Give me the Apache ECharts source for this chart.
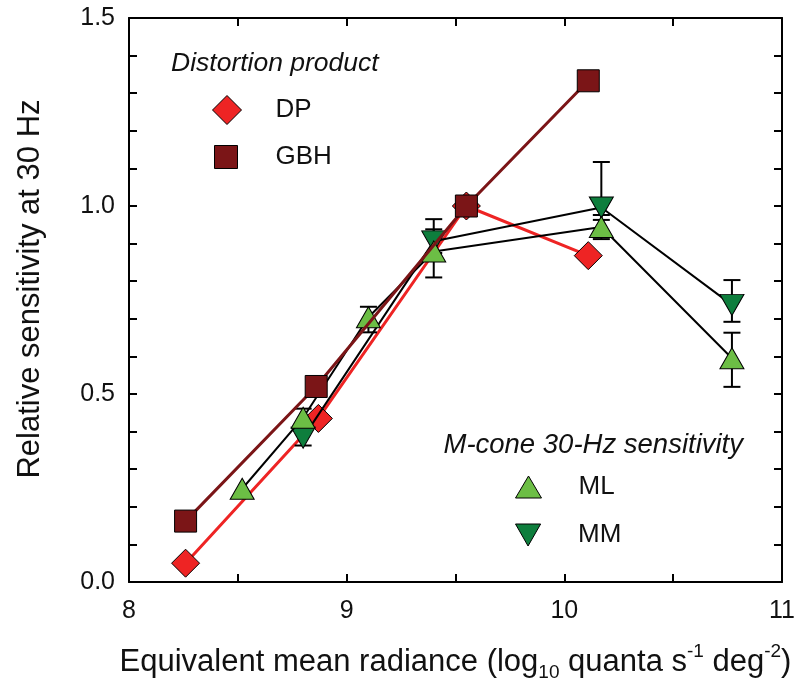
<!DOCTYPE html>
<html>
<head>
<meta charset="utf-8">
<script src="https://cdn.jsdelivr.net/npm/echarts@6/dist/echarts.min.js"></script>
<style>html,body{margin:0;padding:0;background:#fff}#c{width:798px;height:687px}</style>
</head>
<body>
<div id="c"></div>
<script>
// ---- data ----
const dpX = [8.26, 8.87, 9.55, 10.11];
const dpY = [0.05, 0.435, 1.0, 0.868];
const gbhX = [8.26, 8.86, 9.55, 10.11];
const gbhY = [0.162, 0.52, 1.0, 1.333];
const mlX = [8.52, 8.80, 9.10, 9.40, 10.17, 10.77];
const mlY = [0.248, 0.437, 0.704, 0.879, 0.944, 0.595];
const mlLow = [null, 0.413, 0.664, 0.810, 0.912, 0.519];
const mlHigh = [null, 0.461, 0.732, 0.938, 0.976, 0.663];
const mmX = [8.80, 9.40, 10.17, 10.77];
const mmY = [0.384, 0.906, 0.996, 0.737];
const mmLow = [0.363, 0.875, 0.963, 0.692];
const mmHigh = [0.406, 0.965, 1.117, 0.803];
const xTicks = [8, 9, 10, 11];
const yTicks = [0.0, 0.5, 1.0, 1.5];

const FONT = "'Liberation Sans', Arial, Helvetica, sans-serif";
const cRed = '#EE2424', cDark = '#7B1517', cLight = '#6CBE45', cGreen = '#0E7E3D';
const downTri = 'path://M0,0L24,0L12,21Z';

const pts = (xs, ys) => xs.map((x, i) => [x, ys[i]]);
const errs = (xs, lo, hi) => xs.map((x, i) => [x, lo[i], hi[i]]).filter(d => d[1] != null);

function errRender(params, api) {
  const x = api.value(0), lo = api.value(1), hi = api.value(2);
  const p1 = api.coord([x, lo]), p2 = api.coord([x, hi]);
  const w = 8.5;
  const st = {stroke: '#000', lineWidth: 2};
  return {type: 'group', children: [
    {type: 'line', shape: {x1: p1[0], y1: p1[1], x2: p2[0], y2: p2[1]}, style: st},
    {type: 'line', shape: {x1: p1[0]-w, y1: p1[1], x2: p1[0]+w, y2: p1[1]}, style: st},
    {type: 'line', shape: {x1: p2[0]-w, y1: p2[1], x2: p2[0]+w, y2: p2[1]}, style: st}
  ]};
}

const isHalf = v => Math.abs(v*2 - Math.round(v*2)) < 1e-6;
const isInt = v => Math.abs(v - Math.round(v)) < 1e-6;

const axisCommon = {
  axisLine: {show: true, onZero: false, lineStyle: {color: '#000', width: 2}},
  axisTick: {show: true, inside: true, length: 8, lineStyle: {color: '#000', width: 2}},
  splitLine: {show: false}
};
const legText = pad => ({fontFamily: FONT, fontSize: 26, color: '#111', padding: [0, 0, 0, pad]});

const chart = echarts.init(document.getElementById('c'), null, {renderer: 'canvas'});
chart.setOption({
  backgroundColor: '#fff',
  animation: false,
  textStyle: {fontFamily: FONT},
  grid: {left: 129, right: 16, top: 18, bottom: 103, containLabel: false},
  title: [
    {text: 'Distortion product', left: 171, top: 50, padding: 0,
     textStyle: {fontFamily: FONT, fontStyle: 'italic', fontWeight: 'normal', fontSize: 26.5, color: '#111'}},
    {text: 'M-cone 30-Hz sensitivity', right: 55, top: 432, padding: 0,
     textStyle: {fontFamily: FONT, fontStyle: 'italic', fontWeight: 'normal', fontSize: 27.5, color: '#111'}}
  ],
  legend: [
    {data: [{name: 'DP', icon: 'diamond'}], left: 212, top: 95, padding: 0, itemWidth: 29, itemHeight: 29,
     itemStyle: {color: cRed, borderColor: '#000', borderWidth: 1}, textStyle: legText(29)},
    {data: [{name: 'GBH', icon: 'rect'}], left: 214, top: 144, padding: 0, itemWidth: 23, itemHeight: 23,
     itemStyle: {color: cDark, borderColor: '#000', borderWidth: 1}, textStyle: legText(33)},
    {data: [{name: 'ML', icon: 'triangle'}], left: 515, top: 474, padding: 0, itemWidth: 26, itemHeight: 22,
     itemStyle: {color: cLight, borderColor: '#000', borderWidth: 1}, textStyle: legText(32)},
    {data: [{name: 'MM', icon: downTri}], left: 515, top: 522, padding: 0, itemWidth: 26, itemHeight: 22,
     itemStyle: {color: cGreen, borderColor: '#000', borderWidth: 1}, textStyle: legText(32)}
  ],
  xAxis: [
    Object.assign({}, axisCommon, {
      type: 'value', min: xTicks[0], max: xTicks[xTicks.length-1], interval: 0.5, position: 'bottom',
      axisLabel: {fontFamily: FONT, fontSize: 25, color: '#111', margin: 17,
        formatter: v => (isInt(v) && xTicks.indexOf(Math.round(v)) >= 0) ? String(Math.round(v)) : ''},
      name: 'Equivalent mean radiance (log{sub|10} quanta s{sup|-1} deg{sup|-2})',
      nameLocation: 'middle', nameGap: 60,
      nameTextStyle: {fontFamily: FONT, fontSize: 31, color: '#111', lineHeight: 40,
        rich: {sub: {fontFamily: FONT, fontSize: 19, color: '#111', verticalAlign: 'bottom', lineHeight: 40},
               sup: {fontFamily: FONT, fontSize: 19, color: '#111', verticalAlign: 'top', lineHeight: 26}}}
    }),
    Object.assign({}, axisCommon, {
      type: 'value', min: xTicks[0], max: xTicks[xTicks.length-1], interval: 0.5, position: 'top',
      axisLabel: {show: false}
    })
  ],
  yAxis: [
    Object.assign({}, axisCommon, {
      type: 'value', min: yTicks[0], max: yTicks[yTicks.length-1], interval: 0.1, position: 'left',
      axisLabel: {fontFamily: FONT, fontSize: 25, color: '#111', margin: 14,
        formatter: v => isHalf(v) ? v.toFixed(1) : ''},
      name: 'Relative sensitivity at 30 Hz', nameLocation: 'middle', nameGap: 83,
      nameTextStyle: {fontFamily: FONT, fontSize: 31, color: '#111', padding: [0, 0, 0, 22]}
    }),
    Object.assign({}, axisCommon, {
      type: 'value', min: yTicks[0], max: yTicks[yTicks.length-1], interval: 0.1, position: 'right',
      axisLabel: {show: false}
    })
  ],
  series: [
    {name: 'DP', type: 'line', data: pts(dpX, dpY), symbol: 'diamond', symbolSize: 28, z: 2,
     lineStyle: {color: cRed, width: 3}, itemStyle: {color: cRed, borderColor: '#000', borderWidth: 1}},
    {name: 'ML-err', type: 'custom', data: errs(mlX, mlLow, mlHigh), renderItem: errRender, z: 3, silent: true},
    {name: 'MM-err', type: 'custom', data: errs(mmX, mmLow, mmHigh), renderItem: errRender, z: 3, silent: true},
    {name: 'MM', type: 'line', data: pts(mmX, mmY), symbol: downTri, symbolSize: [24, 21], z: 4,
     lineStyle: {color: '#000', width: 2}, itemStyle: {color: cGreen, borderColor: '#000', borderWidth: 1}},
    {name: 'ML', type: 'line', data: pts(mlX, mlY), symbol: 'triangle', symbolSize: [24, 21], z: 5,
     lineStyle: {color: '#000', width: 2}, itemStyle: {color: cLight, borderColor: '#000', borderWidth: 1}},
    {name: 'GBH', type: 'line', data: pts(gbhX, gbhY), symbol: 'rect', symbolSize: 22, z: 6,
     lineStyle: {color: cDark, width: 3}, itemStyle: {color: cDark, borderColor: '#000', borderWidth: 1}}
  ]
});
</script>
</body>
</html>
